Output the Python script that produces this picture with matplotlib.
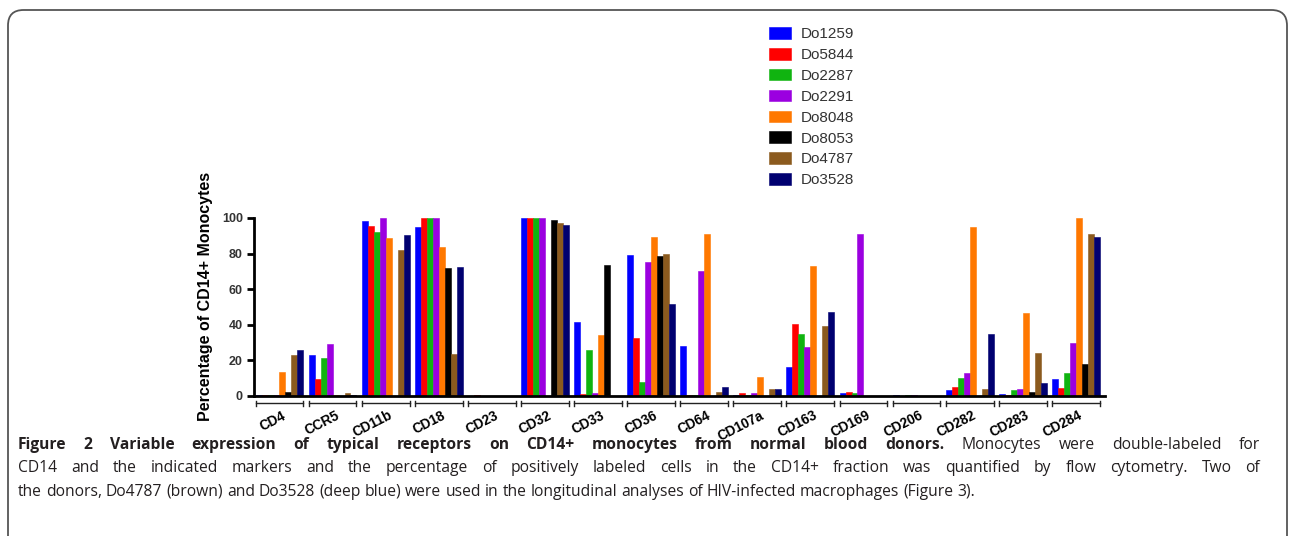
import numpy as np
import matplotlib
matplotlib.use('Agg')
import matplotlib.pyplot as plt
from matplotlib.patches import FancyBboxPatch
import matplotlib.transforms as mtransforms

markers = ['CD4', 'CCR5', 'CD11b', 'CD18', 'CD23', 'CD32', 'CD33', 'CD36',
           'CD64', 'CD107a', 'CD163', 'CD169', 'CD206', 'CD282', 'CD283', 'CD284']
donors = ['Do1259', 'Do5844', 'Do2287', 'Do2291', 'Do8048', 'Do8053', 'Do4787', 'Do3528']
colors = ['#0000ff', '#ff0000', '#10b410', '#9b00e0', '#ff7800', '#000000', '#8b5a1e', '#000070']

# percentage of CD14+ monocytes, one list per donor (in marker order)
do1259 = [0.3, 23, 98.5, 95, 0, 100, 41.5, 79.3, 28.3, 0.5, 16.5, 1.8, 0.5, 3.4, 1, 9.4]
do5844 = [0.8, 9.6, 95.3, 100, 0.8, 100, 1, 32.5, 0.5, 1.5, 40.5, 2, 0, 4.9, 0.8, 4.7]
do2287 = [0.3, 21.5, 92, 100, 0, 100, 26, 7.7, 0.3, 0.3, 34.9, 1.7, 0.5, 10.3, 3.4, 12.8]
do2291 = [0.5, 29.4, 100, 100, 0, 100, 1.7, 75.2, 70, 1.5, 27.4, 91.2, 0.5, 13.1, 4.1, 29.7]
do8048 = [13.5, 0.8, 88.7, 83.7, 0, 0, 34, 89.6, 91, 10.9, 72.8, 0, 0, 94.7, 46.9, 99.8]
do8053 = [2.3, 0, 0, 71.9, 0, 99, 73.7, 78.4, 0, 0, 0, 0, 0, 0, 2.4, 18]
do4787 = [23.3, 1.7, 82, 23.6, 0, 97.2, 0, 80, 2, 3.8, 39.6, 0, 0, 3.8, 24.2, 91.2]
do3528 = [26, 0.6, 90.6, 72.4, 0, 95.8, 0, 51.8, 5.2, 3.9, 47.1, 0, 0, 34.7, 7.5, 89.5]
values = [do1259, do5844, do2287, do2291, do8048, do8053, do4787, do3528]

caption = [
    [('Figure 2 Variable expression of typical receptors on CD14+ monocytes from normal blood donors.', 'bold'),
     ('Monocytes were double-labeled for', 'normal')],
    [('CD14 and the indicated markers and the percentage of positively labeled cells in the CD14+ fraction was quantified by flow cytometry. Two of', 'normal')],
    [('the donors, Do4787 (brown) and Do3528 (deep blue) were used in the longitudinal analyses of HIV-infected macrophages (Figure 3).', 'normal')],
]

W, H = 1293, 536
fig = plt.figure(figsize=(W / 100, H / 100), dpi=100)
fig.set_facecolor('#FFFFFF')

# rounded frame around the whole figure
frame = FancyBboxPatch((8 / W, -0.1), 1279 / W, 1.1 - 10 / H,
                       boxstyle='round,pad=0,rounding_size=0.012',
                       transform=fig.transFigure, facecolor='none',
                       edgecolor='#555555', linewidth=1.3, mutation_aspect=W / H)
fig.patches.append(frame)

ax = fig.add_axes([254 / W, 1 - 396 / H, 851 / W, 178 / H])
x = np.arange(len(markers))
w = 0.9 / len(donors)
for j, (name, vals, c) in enumerate(zip(donors, values, colors)):
    ax.bar(x - 0.45 + w * (j + 0.5), vals, width=w, color=c, edgecolor=c,
           linewidth=0.4, label=name, zorder=2)

ax.set_xlim(-0.48, 15.55)
ax.set_ylim(0, 100)
ax.set_yticks([0, 20, 40, 60, 80, 100])
ax.set_xticks([])
for s in ['top', 'right']:
    ax.spines[s].set_visible(False)
ax.spines['left'].set_linewidth(2)
ax.spines['bottom'].set_linewidth(2)
ax.tick_params(axis='y', width=2, length=5, labelsize=9, colors='#000000', pad=3)
for t in ax.get_yticklabels():
    t.set_fontweight('bold')
    t.set_color('#333333')
    t.set_family('Liberation Sans')
ax.set_ylabel('Percentage of CD14+ Monocytes', fontsize=11.5, fontweight='bold',
              family='Liberation Sans')
ax.yaxis.set_label_coords(-0.048, 0.56)

# group brackets and rotated labels below the axis
trans = mtransforms.blended_transform_factory(ax.transData, ax.transAxes)
for i, m in enumerate(markers):
    ax.plot([i - 0.45, i + 0.45], [-0.042, -0.042], color='#222222', lw=1,
            transform=trans, clip_on=False)
    for e in (i - 0.45, i + 0.45):
        ax.plot([e, e], [-0.028, -0.056], color='#222222', lw=1,
                transform=trans, clip_on=False)
    ax.text(i + 0.05, -0.07, m, transform=trans, rotation=27, ha='right', va='top',
            rotation_mode='anchor', fontsize=9.8, fontweight='bold',
            family='Liberation Sans')

ax.legend(loc='upper left', bbox_to_anchor=(769 / W, 1 - 27 / H),
          bbox_transform=fig.transFigure, frameon=False, borderpad=0, borderaxespad=0,
          handlelength=1.45, handleheight=0.8, labelspacing=0.44, handletextpad=0.6,
          prop={'family': 'Liberation Sans', 'size': 11})
for t in ax.get_legend().get_texts():
    t.set_color('#333333')

# caption: size fitted so the last (ragged) line is as wide as in the figure,
# the first two lines are justified word by word
renderer = fig.canvas.get_renderer()
cap = dict(family='Open Sans', color='#231f20')
left, right, last_right = 18, 1260, 968
probe = fig.text(0, 0, caption[2][0][0], fontsize=12, **cap)
size = 12 * (last_right - left) / probe.get_window_extent(renderer).width
probe.remove()

baselines = [449, 472, 496]
for n, (line, base) in enumerate(zip(caption, baselines)):
    words = [(wd, wt) for seg, wt in line for wd in seg.split()]
    texts = [fig.text(0, 1 - base / H, wd, fontsize=size, fontweight=wt, **cap)
             for wd, wt in words]
    widths = [t.get_window_extent(renderer).width for t in texts]
    if n < len(caption) - 1:
        gap = (right - left - sum(widths)) / (len(words) - 1)
    else:
        sp = fig.text(0, 0, 'a a', fontsize=size, **cap)
        sa = fig.text(0, 0, 'aa', fontsize=size, **cap)
        gap = sp.get_window_extent(renderer).width - sa.get_window_extent(renderer).width
        sp.remove()
        sa.remove()
    pos = left
    for t, wd in zip(texts, widths):
        t.set_x(pos / W)
        pos += wd + gap

fig.savefig('out.png', dpi=100)
